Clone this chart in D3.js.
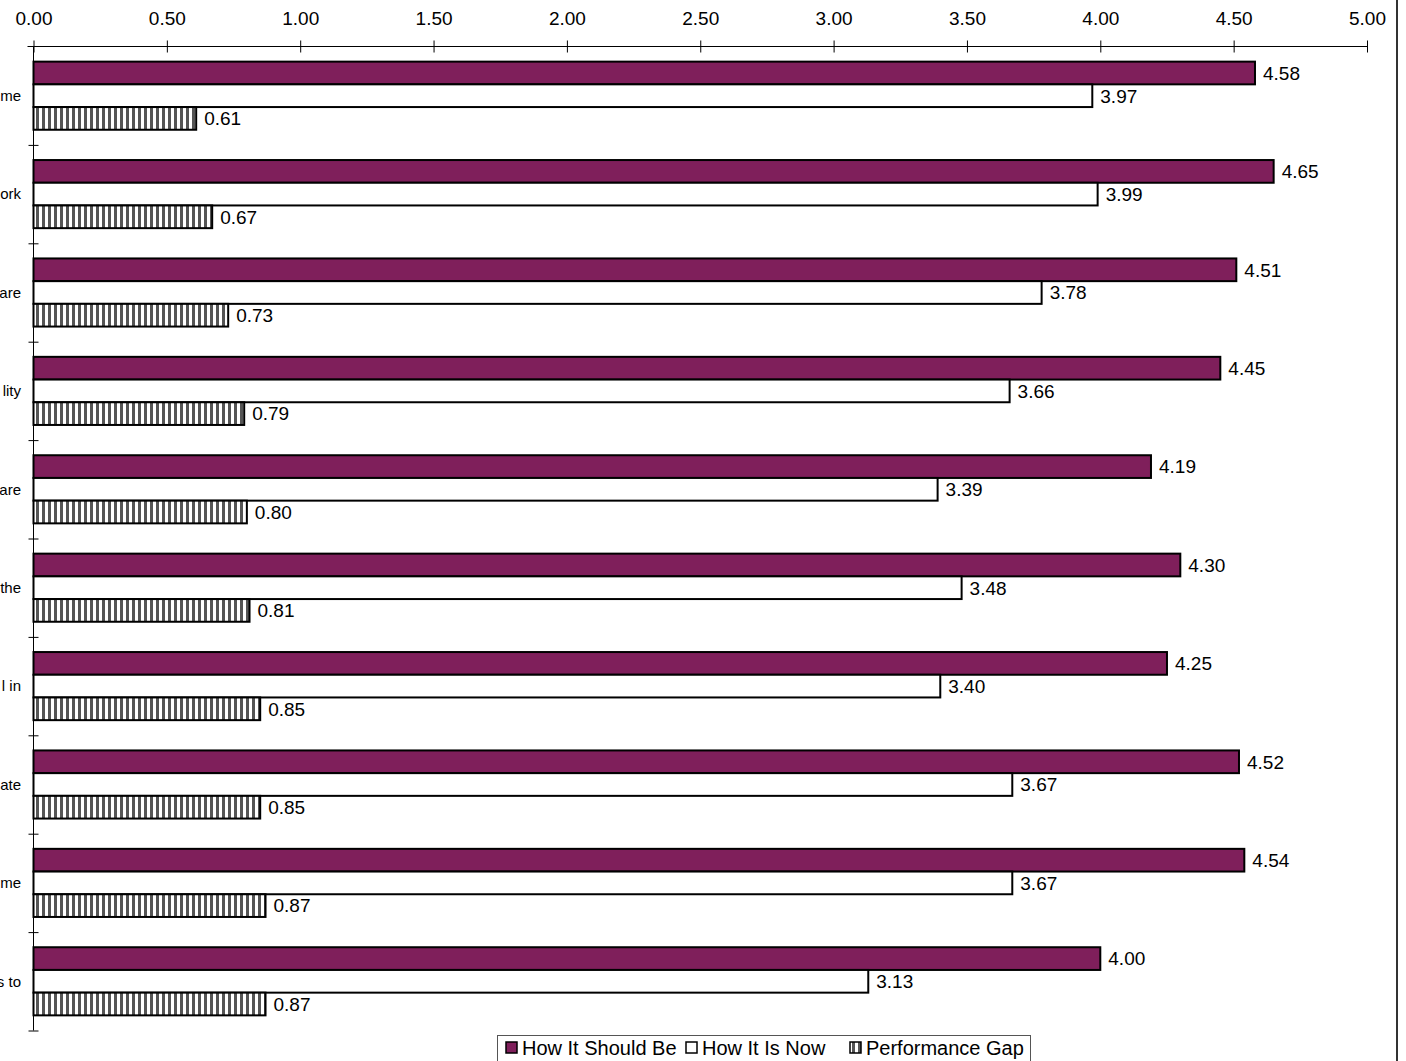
<!DOCTYPE html>
<html><head><meta charset="utf-8">
<script src="https://cdn.jsdelivr.net/npm/d3@7"></script>
<style>body{margin:0;background:#fff}svg{display:block;font-family:"Liberation Sans",Arial,sans-serif}</style>
</head><body>
<script>
const categories = ["me","ork","are","lity","are","the","l in","ate","me","s to"];
const seriesNames = ["How It Should Be","How It Is Now","Performance Gap"];
const shouldBe = [4.58,4.65,4.51,4.45,4.19,4.30,4.25,4.52,4.54,4.00];
const isNow = [3.97,3.99,3.78,3.66,3.39,3.48,3.40,3.67,3.67,3.13];
const gap = [0.61,0.67,0.73,0.79,0.80,0.81,0.85,0.85,0.87,0.87];
const xTicks = [0,0.5,1,1.5,2,2.5,3,3.5,4,4.5,5];

(function(){
const W = 1406, H = 1061;
const pLeft = 33.5, pRight = 1367, pTop = 46.5, pBottom = 1030.5;
const purple = "#7F1F5B";

const svg = d3.select("body").append("svg").attr("width", W).attr("height", H);
const defs = svg.append("defs");
const pat = defs.append("pattern").attr("id","stripes").attr("patternUnits","userSpaceOnUse")
  .attr("width",6).attr("height",10);
pat.append("rect").attr("width",6).attr("height",10).attr("fill","#fff");
pat.append("rect").attr("x",0).attr("width",3).attr("height",10).attr("fill","#555");

const x = d3.scaleLinear().domain([0,5]).range([pLeft,pRight]);
const idx = d3.range(categories.length);
const y = d3.scaleBand().domain(idx).range([pTop,pBottom]).paddingInner(0).paddingOuter(0);
const inner = d3.scaleBand().domain([0,1,2]).range([0,y.bandwidth()]).paddingOuter(0.667).paddingInner(0);

// right frame line
svg.append("line").attr("x1",1397).attr("x2",1397).attr("y1",0).attr("y2",H)
  .attr("stroke","#333").attr("stroke-width",2);

// top axis
const xAxis = svg.append("g").attr("transform",`translate(0,${pTop})`)
  .call(d3.axisTop(x).tickValues(xTicks).tickFormat(d3.format(".2f")).tickSize(6).tickPadding(16));
xAxis.select(".domain").attr("stroke","#000").attr("d",`M${pLeft-6},0H${pRight}`);
xAxis.selectAll(".tick line").attr("y1",-6).attr("y2",6).attr("stroke","#000");
xAxis.selectAll(".tick text").attr("font-size",19).attr("fill","#000")
  .attr("font-family","Liberation Sans, Arial, sans-serif");

// left axis with boundary ticks
const yb = d3.scaleLinear().domain([0,categories.length]).range([pTop,pBottom]);
const yAxis = svg.append("g").attr("transform",`translate(${pLeft},0)`)
  .call(d3.axisLeft(yb).tickValues(d3.range(1,categories.length+1)).tickFormat("").tickSize(5));
yAxis.select(".domain").attr("stroke","#000").attr("d",`M0,${pTop}V${pBottom}`);
yAxis.selectAll(".tick line").attr("x1",-5).attr("x2",5).attr("stroke","#000");

// category labels
svg.append("g").selectAll("text").data(idx).join("text")
  .attr("x",21).attr("y",i=>y(i)+y.bandwidth()/2).attr("dy","0.35em")
  .attr("text-anchor","end").attr("font-size",15).attr("fill","#000")
  .text(i=>categories[i]);

const series = [
  {vals:shouldBe, fill:purple},
  {vals:isNow, fill:"#fff"},
  {vals:gap, fill:"url(#stripes)"}
];
const fmt = d3.format(".2f");
series.forEach((s,k)=>{
  const g = svg.append("g");
  g.selectAll("rect").data(idx).join("rect")
    .attr("x",x(0)).attr("y",i=>y(i)+inner(k))
    .attr("width",i=>x(s.vals[i])-x(0)).attr("height",inner.bandwidth())
    .attr("fill",s.fill).attr("stroke","#000").attr("stroke-width",2);
  g.selectAll("text").data(idx).join("text")
    .attr("x",i=>x(s.vals[i])+8).attr("y",i=>y(i)+inner(k)+inner.bandwidth()/2)
    .attr("dy","0.36em").attr("font-size",19).attr("fill","#000")
    .text(i=>fmt(s.vals[i]));
});

// legend
const lg = svg.append("g");
lg.append("rect").attr("x",497.5).attr("y",1035.5).attr("width",533).attr("height",40)
  .attr("fill","#fff").attr("stroke","#555").attr("stroke-width",1);
const legX = [506, 686, 850];
const legFill = [purple, "#fff", "url(#stripes)"];
seriesNames.forEach((n,k)=>{
  lg.append("rect").attr("x",legX[k]).attr("y",1042).attr("width",11).attr("height",11)
    .attr("fill",legFill[k]).attr("stroke","#000").attr("stroke-width",1.5);
  lg.append("text").attr("x",legX[k]+16).attr("y",1055).attr("font-size",20).attr("fill","#000").text(n);
});
})();
</script>
</body></html>
